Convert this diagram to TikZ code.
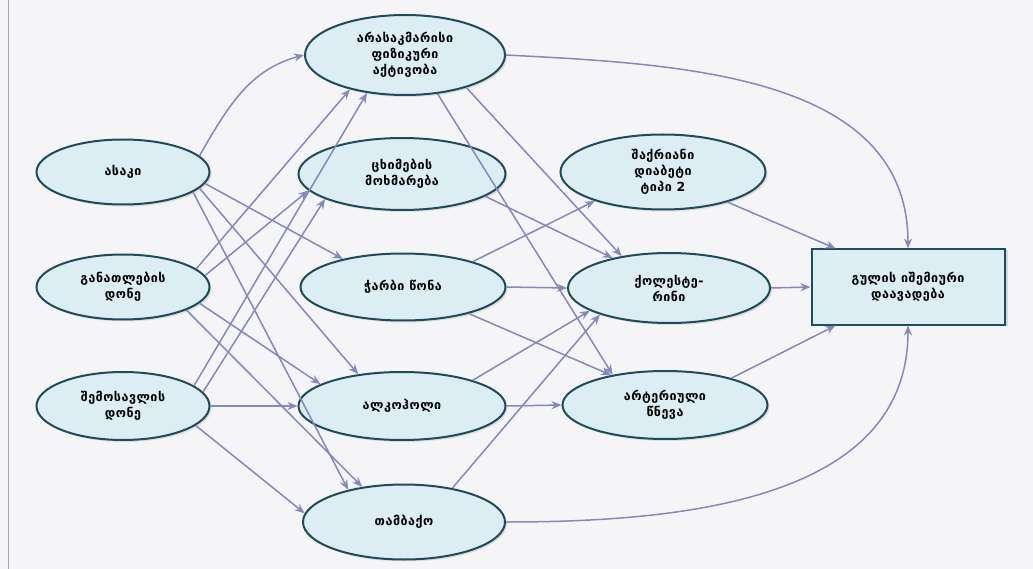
\documentclass[tikz,border=0pt]{standalone}
\usepackage{fontspec}
\setmainfont{DejaVu Sans}[LetterSpace=4]
\usetikzlibrary{shapes.geometric,arrows.meta,shadows}
\definecolor{nodefill}{HTML}{DCEDF3}
\definecolor{nodeline}{HTML}{1F4C5A}
\definecolor{linkcol}{HTML}{8587C0}
\definecolor{pagebg}{HTML}{F5F5F7}
\begin{document}
\begin{tikzpicture}[x=1pt,y=-1pt,
    factor/.style={
        ellipse,
        draw=nodeline,
        line width=2pt,
        fill=nodefill,
        inner sep=0pt,
        align=center,
        font=\bfseries\fontsize{12.5}{16}\selectfont,
        drop shadow={shadow xshift=2pt,shadow yshift=-2pt,fill=gray!45}
    },
    outcome/.style={
        rectangle,
        draw=nodeline,
        line width=2pt,
        fill=nodefill,
        minimum width=193pt,
        minimum height=75pt,
        align=center,
        font=\bfseries\fontsize{12.5}{16}\selectfont,
        drop shadow={shadow xshift=3pt,shadow yshift=-1pt,fill=linkcol!60}
    },
    link/.style={
        draw=linkcol,
        line width=1.5pt,
        -{Stealth[length=10pt,width=8pt]}
    }
]
    \useasboundingbox (0,0) rectangle (1033,569);
    \fill[pagebg] (0,0) rectangle (1033,569);
    \draw[gray!70] (8,0) -- (8,569);

    % left column
    \node[factor, minimum width=173pt, minimum height=65pt] (asaki) at (123,172) {ასაკი};
    \node[factor, minimum width=173pt, minimum height=65pt] (ganatl) at (123,287) {განათლების\\დონე};
    \node[factor, minimum width=173pt, minimum height=68pt] (shemos) at (123,406) {შემოსავლის\\დონე};

    % middle column
    \node[factor, minimum width=200pt, minimum height=80pt] (fiz) at (405,55) {არასაკმარისი\\ფიზიკური\\აქტივობა};
    \node[factor, minimum width=207pt, minimum height=72pt] (cximeb) at (402,174) {ცხიმების\\მოხმარება};
    \node[factor, minimum width=205pt, minimum height=67pt] (charbi) at (403,287) {ჭარბი წონა};
    \node[factor, minimum width=207pt, minimum height=68pt] (alko) at (402,406) {ალკოჰოლი};
    \node[factor, minimum width=202pt, minimum height=75pt] (tambaqo) at (404,522) {თამბაქო};

    % right column
    \node[factor, minimum width=205pt, minimum height=75pt] (shaqr) at (663,172) {შაქრიანი\\დიაბეტი\\ტიპი 2};
    \node[factor, minimum width=202pt, minimum height=70pt] (qolest) at (669,288) {ქოლესტე-\\რინი};
    \node[factor, minimum width=205pt, minimum height=68pt] (arter) at (665,405) {არტერიული\\წნევა};
    \node[outcome] (gul) at (908,287) {გულის იშემიური\\დაავადება};

    % left -> middle
    \draw[link] (asaki.12) to[out=60,in=195] (fiz.west);
    \draw[link] (asaki.-8) -- (charbi.155);
    \draw[link] (asaki.-12) -- (alko.144);
    \draw[link] (asaki.-16) -- (tambaqo.150);
    \draw[link] (ganatl.14) -- (fiz.212);
    \draw[link] (ganatl.8) -- (cximeb.190);
    \draw[link] (ganatl.-12) -- (alko.165);
    \draw[link] (ganatl.-20) -- (tambaqo.140);
    \draw[link] (shemos.16) -- (fiz.225);
    \draw[link] (shemos.10) -- (cximeb.198);
    \draw[link] (shemos.east) -- (alko.west);
    \draw[link] (shemos.-15) -- (tambaqo.175);

    % middle -> right
    \draw[link] (fiz.-28) -- (qolest.146);
    \draw[link] (fiz.-50) -- (arter.150);
    \draw[link] (fiz.east) to[out=-3,in=90] (gul.north);
    \draw[link] (cximeb.-15) -- (qolest.152);
    \draw[link] (charbi.20) -- (shaqr.203);
    \draw[link] (charbi.east) -- (qolest.west);
    \draw[link] (charbi.-22) -- (arter.151);
    \draw[link] (alko.20) -- (qolest.196);
    \draw[link] (alko.east) -- (arter.west);
    \draw[link] (tambaqo.35) -- (qolest.201);
    \draw[link] (tambaqo.east) to[out=0,in=-90] (gul.south);

    % right -> outcome
    \draw[link] (shaqr.-25) -- (gul.152);
    \draw[link] (qolest.east) -- (gul.west);
    \draw[link] (arter.22) -- (gul.208);
\end{tikzpicture}
\end{document}
